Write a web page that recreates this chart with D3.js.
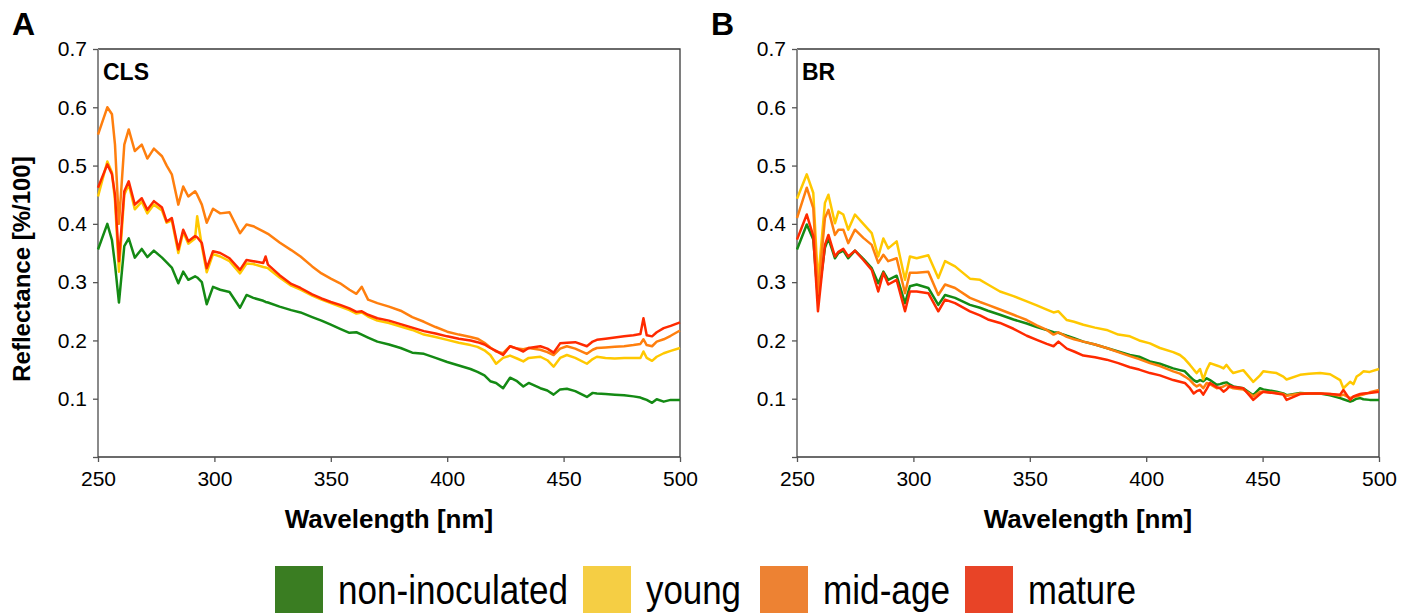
<!DOCTYPE html>
<html>
<head>
<meta charset="utf-8">
<script src="https://cdn.jsdelivr.net/npm/d3@7"></script>
<style>
  html, body { margin: 0; padding: 0; background: #fff; }
  svg { display: block; }
  text { font-family: "Liberation Sans", Arial, sans-serif; fill: #000; }
</style>
</head>
<body>
<div id="container"></div>
<script>
// categories and colours
const categories = ["non-inoculated", "young", "mid-age", "mature"];
const lineColors = ["#148a14", "#ffc800", "#ff7f0e", "#ff2a00"];
const legendColors = ["#3a7d22", "#f5ce44", "#ed8233", "#e84427"];

const xTicks = [250, 300, 350, 400, 450, 500];
const yTicks = [0, 0.1, 0.2, 0.3, 0.4, 0.5, 0.6, 0.7];

// panel A (CLS)
const wavelengthsA = [250, 254, 256, 257.3, 259, 261.3, 263.2, 265.8, 268.8, 271.2,
  274, 277.5, 279.5, 281.7, 284.5, 286.6, 288.8, 291.7, 292.6, 294.6,
  296.7, 299.4, 302.5, 306.5, 311, 313.8, 316.7, 321, 322, 323,
  328, 333, 337, 342, 346, 350, 354, 358, 361, 363.3,
  366, 370, 375, 380, 385, 390, 395, 400, 405, 410,
  413, 416, 418.5, 421, 424, 427, 430, 432.7, 435, 440,
  443, 445.7, 448.5, 451.4, 455, 460, 462.5, 464.3, 468, 472,
  476, 480, 483, 484.3, 485.7, 488, 490, 493, 496, 500];
const nonInoculatedA = [0.356, 0.400, 0.372, 0.330, 0.265, 0.362, 0.375, 0.342, 0.357, 0.343,
  0.354, 0.342, 0.334, 0.325, 0.298, 0.318, 0.304, 0.310, 0.308, 0.300,
  0.262, 0.292, 0.287, 0.283, 0.256, 0.278, 0.273, 0.268, 0.266, 0.265,
  0.258, 0.252, 0.248, 0.240, 0.234, 0.227, 0.220, 0.213, 0.214, 0.210,
  0.205, 0.198, 0.193, 0.187, 0.179, 0.177, 0.170, 0.163, 0.157, 0.151,
  0.146, 0.140, 0.130, 0.127, 0.118, 0.136, 0.130, 0.121, 0.127, 0.118,
  0.114, 0.107, 0.116, 0.117, 0.113, 0.103, 0.110, 0.109, 0.108, 0.107,
  0.106, 0.104, 0.102, 0.100, 0.098, 0.093, 0.099, 0.095, 0.098, 0.098];
const youngA = [0.447, 0.507, 0.488, 0.440, 0.318, 0.450, 0.468, 0.425, 0.438, 0.418,
  0.433, 0.423, 0.402, 0.406, 0.350, 0.386, 0.366, 0.375, 0.413, 0.362,
  0.317, 0.348, 0.344, 0.336, 0.315, 0.332, 0.331, 0.326, 0.325, 0.324,
  0.308, 0.294, 0.287, 0.277, 0.270, 0.264, 0.258, 0.252, 0.246, 0.248,
  0.241, 0.234, 0.230, 0.224, 0.218, 0.210, 0.206, 0.201, 0.196, 0.192,
  0.189, 0.183, 0.175, 0.160, 0.170, 0.174, 0.169, 0.164, 0.170, 0.172,
  0.166, 0.155, 0.170, 0.175, 0.170, 0.160, 0.168, 0.172, 0.170, 0.169,
  0.170, 0.170, 0.170, 0.181, 0.170, 0.165, 0.172, 0.178, 0.182, 0.187];
const midAgeA = [0.553, 0.600, 0.588, 0.536, 0.400, 0.536, 0.562, 0.525, 0.536, 0.512,
  0.529, 0.516, 0.500, 0.485, 0.433, 0.464, 0.447, 0.456, 0.450, 0.433,
  0.402, 0.426, 0.418, 0.420, 0.384, 0.399, 0.396, 0.387, 0.385, 0.383,
  0.368, 0.355, 0.344, 0.327, 0.315, 0.306, 0.298, 0.287, 0.280, 0.292,
  0.270, 0.264, 0.258, 0.251, 0.240, 0.232, 0.223, 0.215, 0.210, 0.206,
  0.203, 0.196, 0.188, 0.181, 0.178, 0.190, 0.186, 0.185, 0.187, 0.184,
  0.180, 0.175, 0.186, 0.190, 0.186, 0.177, 0.184, 0.187, 0.188, 0.189,
  0.190, 0.192, 0.194, 0.202, 0.192, 0.190, 0.198, 0.202, 0.208, 0.217];
const matureA = [0.462, 0.502, 0.485, 0.450, 0.336, 0.456, 0.473, 0.433, 0.444, 0.424,
  0.439, 0.428, 0.404, 0.410, 0.356, 0.390, 0.370, 0.379, 0.377, 0.367,
  0.324, 0.353, 0.350, 0.341, 0.321, 0.338, 0.336, 0.333, 0.344, 0.330,
  0.312, 0.297, 0.290, 0.279, 0.272, 0.266, 0.261, 0.255, 0.249, 0.250,
  0.244, 0.238, 0.234, 0.228, 0.222, 0.216, 0.212, 0.207, 0.203, 0.200,
  0.197, 0.193, 0.187, 0.182, 0.175, 0.190, 0.186, 0.181, 0.187, 0.190,
  0.186, 0.179, 0.195, 0.196, 0.197, 0.190, 0.198, 0.201, 0.203, 0.205,
  0.207, 0.209, 0.211, 0.238, 0.209, 0.207, 0.214, 0.221, 0.225, 0.231];

// panel B (BR)
const wavelengthsB = [250, 254.2, 257, 259, 262, 263.5, 266.3, 267.8, 269.9, 272,
  274.9, 278.5, 282.1, 284.9, 287.1, 289.2, 292.8, 296.4, 298.5, 301.4,
  306.4, 310.7, 313.6, 317.9, 324.3, 328.6, 332, 337.2, 343, 348.7,
  353, 357.3, 360.2, 362.3, 365.9, 369, 373, 378, 383, 388,
  393, 397, 401.6, 405.9, 411.6, 414.5, 416.6, 418.8, 420.4, 421.7,
  423.1, 424.5, 426, 427.4, 430.3, 431.7, 433.2, 434.5, 436, 437.4,
  441.7, 446, 448.9, 450.3, 456, 458.9, 460.3, 466.1, 470, 474.7,
  479, 483.3, 484.7, 487.6, 489, 490.4, 491.9, 493.3, 496, 500];
const nonInoculatedB = [0.356, 0.399, 0.373, 0.270, 0.359, 0.375, 0.341, 0.350, 0.354, 0.341,
  0.354, 0.340, 0.324, 0.298, 0.318, 0.304, 0.311, 0.264, 0.293, 0.296,
  0.290, 0.261, 0.278, 0.273, 0.261, 0.256, 0.251, 0.244, 0.236, 0.229,
  0.223, 0.218, 0.214, 0.213, 0.208, 0.204, 0.198, 0.193, 0.187, 0.181,
  0.175, 0.172, 0.164, 0.160, 0.152, 0.149, 0.147, 0.138, 0.132, 0.129,
  0.132, 0.130, 0.135, 0.132, 0.124, 0.125, 0.127, 0.128, 0.124, 0.121,
  0.118, 0.106, 0.118, 0.116, 0.112, 0.109, 0.106, 0.110, 0.109, 0.109,
  0.106, 0.101, 0.099, 0.095, 0.097, 0.100, 0.101, 0.099, 0.098, 0.098];
const youngB = [0.443, 0.485, 0.453, 0.300, 0.436, 0.450, 0.401, 0.421, 0.416, 0.390,
  0.416, 0.400, 0.384, 0.344, 0.375, 0.358, 0.370, 0.304, 0.344, 0.341,
  0.346, 0.307, 0.336, 0.327, 0.306, 0.304, 0.296, 0.284, 0.276, 0.267,
  0.260, 0.253, 0.248, 0.250, 0.235, 0.232, 0.227, 0.222, 0.218, 0.210,
  0.207, 0.200, 0.195, 0.187, 0.180, 0.175, 0.168, 0.158, 0.150, 0.144,
  0.151, 0.133, 0.150, 0.161, 0.157, 0.155, 0.152, 0.158, 0.150, 0.144,
  0.149, 0.129, 0.140, 0.147, 0.144, 0.138, 0.133, 0.141, 0.143, 0.144,
  0.142, 0.132, 0.118, 0.129, 0.125, 0.138, 0.142, 0.147, 0.146, 0.151];
const midAgeB = [0.410, 0.462, 0.427, 0.280, 0.410, 0.424, 0.381, 0.390, 0.390, 0.367,
  0.390, 0.376, 0.364, 0.333, 0.347, 0.336, 0.341, 0.281, 0.316, 0.316,
  0.318, 0.278, 0.296, 0.290, 0.273, 0.266, 0.261, 0.253, 0.244, 0.235,
  0.226, 0.218, 0.210, 0.214, 0.206, 0.202, 0.198, 0.193, 0.187, 0.180,
  0.173, 0.168, 0.161, 0.156, 0.147, 0.143, 0.138, 0.132, 0.125, 0.121,
  0.124, 0.118, 0.127, 0.125, 0.118, 0.119, 0.121, 0.124, 0.120, 0.118,
  0.116, 0.104, 0.112, 0.112, 0.110, 0.108, 0.105, 0.109, 0.109, 0.109,
  0.108, 0.105, 0.107, 0.101, 0.103, 0.104, 0.106, 0.107, 0.111, 0.115];
const matureB = [0.373, 0.416, 0.379, 0.250, 0.364, 0.381, 0.344, 0.352, 0.357, 0.344,
  0.354, 0.338, 0.321, 0.284, 0.316, 0.296, 0.304, 0.250, 0.284, 0.284,
  0.281, 0.250, 0.270, 0.264, 0.250, 0.243, 0.236, 0.230, 0.220, 0.208,
  0.201, 0.194, 0.190, 0.198, 0.186, 0.181, 0.174, 0.171, 0.167, 0.161,
  0.154, 0.150, 0.144, 0.140, 0.132, 0.129, 0.127, 0.118, 0.109, 0.113,
  0.115, 0.107, 0.117, 0.127, 0.120, 0.118, 0.112, 0.116, 0.122, 0.120,
  0.118, 0.098, 0.108, 0.112, 0.109, 0.107, 0.098, 0.108, 0.109, 0.109,
  0.108, 0.107, 0.115, 0.098, 0.104, 0.106, 0.108, 0.109, 0.110, 0.112];

const panels = [
  { letter: "A", tag: "CLS", left: 98, waves: wavelengthsA, series: [nonInoculatedA, youngA, midAgeA, matureA], yTitle: true },
  { letter: "B", tag: "BR", left: 797, waves: wavelengthsB, series: [nonInoculatedB, youngB, midAgeB, matureB], yTitle: false }
];

const W = 1416, H = 613;
const plotW = 582, plotTop = 49, plotBottom = 457;

const svg = d3.select("#container").append("svg")
  .attr("width", W).attr("height", H);

panels.forEach(p => {
  const x = d3.scaleLinear().domain([250, 500]).range([p.left, p.left + plotW]);
  const y = d3.scaleLinear().domain([0, 0.7]).range([plotBottom, plotTop]);
  const g = svg.append("g");

  // frame (top + right)
  g.append("path")
    .attr("d", `M${p.left},${plotTop}H${p.left + plotW}V${plotBottom}`)
    .attr("fill", "none").attr("stroke", "#3a3a3a").attr("stroke-width", 1.3);

  // y axis
  const yAxis = g.append("g").attr("transform", `translate(${p.left},0)`)
    .call(d3.axisLeft(y).tickValues(yTicks).tickSize(5).tickPadding(6)
      .tickFormat(d => d === 0 ? "" : d.toFixed(1)));
  yAxis.select(".domain").attr("stroke", "#8a8a8a").attr("stroke-width", 2).attr("d", `M0,${plotTop}V${plotBottom}`);
  yAxis.selectAll(".tick line").attr("stroke", "#555").attr("stroke-width", 1.3);
  yAxis.selectAll("text").style("font-size", "21px");

  // x axis
  const xAxis = g.append("g").attr("transform", `translate(0,${plotBottom})`)
    .call(d3.axisBottom(x).tickValues(xTicks).tickSize(5).tickPadding(9).tickFormat(d3.format("d")));
  xAxis.select(".domain").attr("stroke", "#3a3a3a").attr("stroke-width", 1.3).attr("d", `M${p.left},0H${p.left + plotW}`);
  xAxis.selectAll(".tick line").attr("stroke", "#555").attr("stroke-width", 1.3);
  xAxis.selectAll("text").style("font-size", "21px");

  // lines
  const line = d3.line().x(d => x(d[0])).y(d => y(d[1]));
  p.series.forEach((vals, i) => {
    const pts = p.waves.map((w, k) => [w, vals[k]]).filter(d => d[1] != null);
    g.append("path").datum(pts)
      .attr("d", line)
      .attr("fill", "none")
      .attr("stroke", lineColors[i])
      .attr("stroke-width", 2.5)
      .attr("stroke-linejoin", "round");
  });

  // labels
  svg.append("text").attr("x", p.left - 86).attr("y", 35)
    .style("font-weight", "bold").style("font-size", "32px").text(p.letter);
  svg.append("text").attr("x", p.left + 5).attr("y", 80)
    .style("font-weight", "bold").style("font-size", "23px").text(p.tag);
  svg.append("text").attr("x", p.left + plotW / 2).attr("y", 528)
    .attr("text-anchor", "middle")
    .style("font-weight", "bold").style("font-size", "26px").text("Wavelength [nm]");
  if (p.yTitle) {
    svg.append("text")
      .attr("transform", `translate(30,${(plotTop + plotBottom) / 2 + 16}) rotate(-90)`)
      .attr("text-anchor", "middle")
      .style("font-weight", "bold").style("font-size", "24px").text("Reflectance [%/100]");
  }
});

// legend
const legendX = [275, 583, 760, 965];
const legendTextW = [230, 95, 127, 108];
const legend = svg.append("g");
categories.forEach((c, i) => {
  legend.append("rect").attr("x", legendX[i]).attr("y", 566)
    .attr("width", 48).attr("height", 47).attr("fill", legendColors[i]);
  legend.append("text").attr("x", legendX[i] + 63).attr("y", 604)
    .attr("textLength", legendTextW[i]).attr("lengthAdjust", "spacingAndGlyphs")
    .style("font-size", "40px").text(c);
});
</script>
</body>
</html>
